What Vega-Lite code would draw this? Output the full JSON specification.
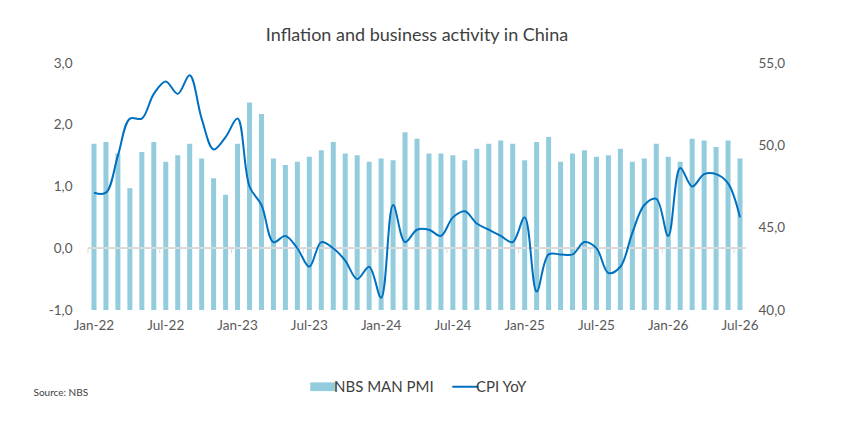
{
  "$schema": "https://vega.github.io/schema/vega-lite/v6.json",
  "autosize": "none",
  "width": 658,
  "height": 247,
  "padding": {"left": 88, "top": 63, "right": 107, "bottom": 116},
  "background": "white",
  "config": {
    "view": {"stroke": null},
    "font": "Lato",
    "axis": {"labelFont": "Lato", "labelColor": "#595959", "labelFontSize": 13.5, "grid": false, "ticks": false, "domain": false}
  },
  "title": {"text": "Inflation and business activity in China", "font": "Lato", "fontSize": 18, "fontWeight": "normal", "color": "#404040", "anchor": "middle", "offset": 11},
  "data": {"values": [
    {"m": "Jan-22", "pmi": 50.1, "cpi": 0.9},
    {"m": "Feb-22", "pmi": 50.2, "cpi": 0.9},
    {"m": "Mar-22", "pmi": 49.5, "cpi": 1.5},
    {"m": "Apr-22", "pmi": 47.4, "cpi": 2.1},
    {"m": "May-22", "pmi": 49.6, "cpi": 2.1},
    {"m": "Jun-22", "pmi": 50.2, "cpi": 2.5},
    {"m": "Jul-22", "pmi": 49.0, "cpi": 2.7},
    {"m": "Aug-22", "pmi": 49.4, "cpi": 2.5},
    {"m": "Sep-22", "pmi": 50.1, "cpi": 2.8},
    {"m": "Oct-22", "pmi": 49.2, "cpi": 2.1},
    {"m": "Nov-22", "pmi": 48.0, "cpi": 1.6},
    {"m": "Dec-22", "pmi": 47.0, "cpi": 1.8},
    {"m": "Jan-23", "pmi": 50.1, "cpi": 2.1},
    {"m": "Feb-23", "pmi": 52.6, "cpi": 1.0},
    {"m": "Mar-23", "pmi": 51.9, "cpi": 0.7},
    {"m": "Apr-23", "pmi": 49.2, "cpi": 0.1},
    {"m": "May-23", "pmi": 48.8, "cpi": 0.2},
    {"m": "Jun-23", "pmi": 49.0, "cpi": 0.0},
    {"m": "Jul-23", "pmi": 49.3, "cpi": -0.3},
    {"m": "Aug-23", "pmi": 49.7, "cpi": 0.1},
    {"m": "Sep-23", "pmi": 50.2, "cpi": 0.0},
    {"m": "Oct-23", "pmi": 49.5, "cpi": -0.2},
    {"m": "Nov-23", "pmi": 49.4, "cpi": -0.5},
    {"m": "Dec-23", "pmi": 49.0, "cpi": -0.3},
    {"m": "Jan-24", "pmi": 49.2, "cpi": -0.8},
    {"m": "Feb-24", "pmi": 49.1, "cpi": 0.7},
    {"m": "Mar-24", "pmi": 50.8, "cpi": 0.1},
    {"m": "Apr-24", "pmi": 50.4, "cpi": 0.3},
    {"m": "May-24", "pmi": 49.5, "cpi": 0.3},
    {"m": "Jun-24", "pmi": 49.5, "cpi": 0.2},
    {"m": "Jul-24", "pmi": 49.4, "cpi": 0.5},
    {"m": "Aug-24", "pmi": 49.1, "cpi": 0.6},
    {"m": "Sep-24", "pmi": 49.8, "cpi": 0.4},
    {"m": "Oct-24", "pmi": 50.1, "cpi": 0.3},
    {"m": "Nov-24", "pmi": 50.3, "cpi": 0.2},
    {"m": "Dec-24", "pmi": 50.1, "cpi": 0.1},
    {"m": "Jan-25", "pmi": 49.1, "cpi": 0.5},
    {"m": "Feb-25", "pmi": 50.2, "cpi": -0.7},
    {"m": "Mar-25", "pmi": 50.5, "cpi": -0.1},
    {"m": "Apr-25", "pmi": 49.0, "cpi": -0.1},
    {"m": "May-25", "pmi": 49.5, "cpi": -0.1},
    {"m": "Jun-25", "pmi": 49.7, "cpi": 0.1},
    {"m": "Jul-25", "pmi": 49.3, "cpi": 0.0},
    {"m": "Aug-25", "pmi": 49.4, "cpi": -0.4},
    {"m": "Sep-25", "pmi": 49.8, "cpi": -0.3},
    {"m": "Oct-25", "pmi": 49.0, "cpi": 0.25},
    {"m": "Nov-25", "pmi": 49.2, "cpi": 0.7},
    {"m": "Dec-25", "pmi": 50.1, "cpi": 0.8},
    {"m": "Jan-26", "pmi": 49.3, "cpi": 0.2},
    {"m": "Feb-26", "pmi": 49.0, "cpi": 1.3},
    {"m": "Mar-26", "pmi": 50.4, "cpi": 1.0},
    {"m": "Apr-26", "pmi": 50.3, "cpi": 1.2},
    {"m": "May-26", "pmi": 49.9, "cpi": 1.2},
    {"m": "Jun-26", "pmi": 50.3, "cpi": 1.05},
    {"m": "Jul-26", "pmi": 49.2, "cpi": 0.5}
  ]},
  "encoding": {
    "x": {"field": "m", "type": "ordinal", "sort": null,
      "scale": {"paddingInner": 0.58, "paddingOuter": 0.29},
      "axis": {"values": ["Jan-22","Jul-22","Jan-23","Jul-23","Jan-24","Jul-24","Jan-25","Jul-25","Jan-26","Jul-26"], "labelAngle": 0, "labelPadding": 8, "title": "Source: NBS", "titleFont": "Lato", "titleFontSize": 10, "titleFontWeight": "normal", "titleColor": "#404040", "titleAnchor": "start", "titleAlign": "left", "titleX": -55, "titleY": 77}}
  },
  "layer": [
    {
      "mark": {"type": "bar", "color": "#93CDDD"},
      "encoding": {
        "y": {"field": "pmi", "type": "quantitative", "scale": {"domain": [40, 55], "zero": false, "nice": false},
          "axis": {"orient": "right", "title": null, "values": [40, 45, 50, 55], "labelPadding": 12, "labelExpr": "replace(format(datum.value, '.1f'), '.', ',')"}},
        "y2": {"datum": 40},
        "color": {"datum": "NBS MAN PMI", "type": "nominal",
          "scale": {"domain": ["NBS MAN PMI", "CPI YoY"], "range": ["#93CDDD", "#0070C0"]},
          "legend": {"orient": "none", "legendX": 228, "legendY": 316, "direction": "horizontal", "title": null, "labelFont": "Lato", "labelFontSize": 15, "labelColor": "#404040", "columnPadding": 14, "symbolSize": 700, "labelOffset": 3,
            "encode": {"symbols": {"update": {"shape": {"signal": "datum.label == 'CPI YoY' ? 'stroke' : 'M-1,-0.33H1V0.33H-1Z'"}, "strokeWidth": {"signal": "datum.label == 'CPI YoY' ? 2 : 0"}, "stroke": {"scale": "color", "field": "value"}, "fill": {"scale": "color", "field": "value"}}}}}
        }
      }
    },
    {
      "mark": {"type": "rule", "color": "#D9D9D9", "strokeWidth": 1},
      "encoding": {"y": {"datum": 0, "type": "quantitative", "scale": {"domain": [-1, 3], "nice": false}, "axis": null}, "x": {"value": 0}, "x2": {"value": 658}}
    },
    {
      "transform": [{"filter": "indexof(datum.m, 'Jan') == 0 || indexof(datum.m, 'Jul') == 0"}],
      "mark": {"type": "rule", "color": "#D9D9D9", "strokeWidth": 1, "xOffset": -6},
      "encoding": {"y": {"datum": 0, "type": "quantitative", "scale": {"domain": [-1, 3], "nice": false}, "axis": null}, "y2": {"datum": -0.08}}
    },
    {
      "mark": {"type": "line", "color": "#0070C0", "strokeWidth": 2, "interpolate": "catmull-rom"},
      "encoding": {
        "y": {"field": "cpi", "type": "quantitative", "scale": {"domain": [-1, 3], "nice": false},
          "axis": {"orient": "left", "title": null, "values": [-1, 0, 1, 2, 3], "labelPadding": 16, "labelExpr": "replace(replace(format(datum.value, '.1f'), '.', ','), '\u2212', '-')"}},
        "color": {"datum": "CPI YoY", "type": "nominal"}
      }
    }
  ],
  "resolve": {"scale": {"y": "independent"}}
}
